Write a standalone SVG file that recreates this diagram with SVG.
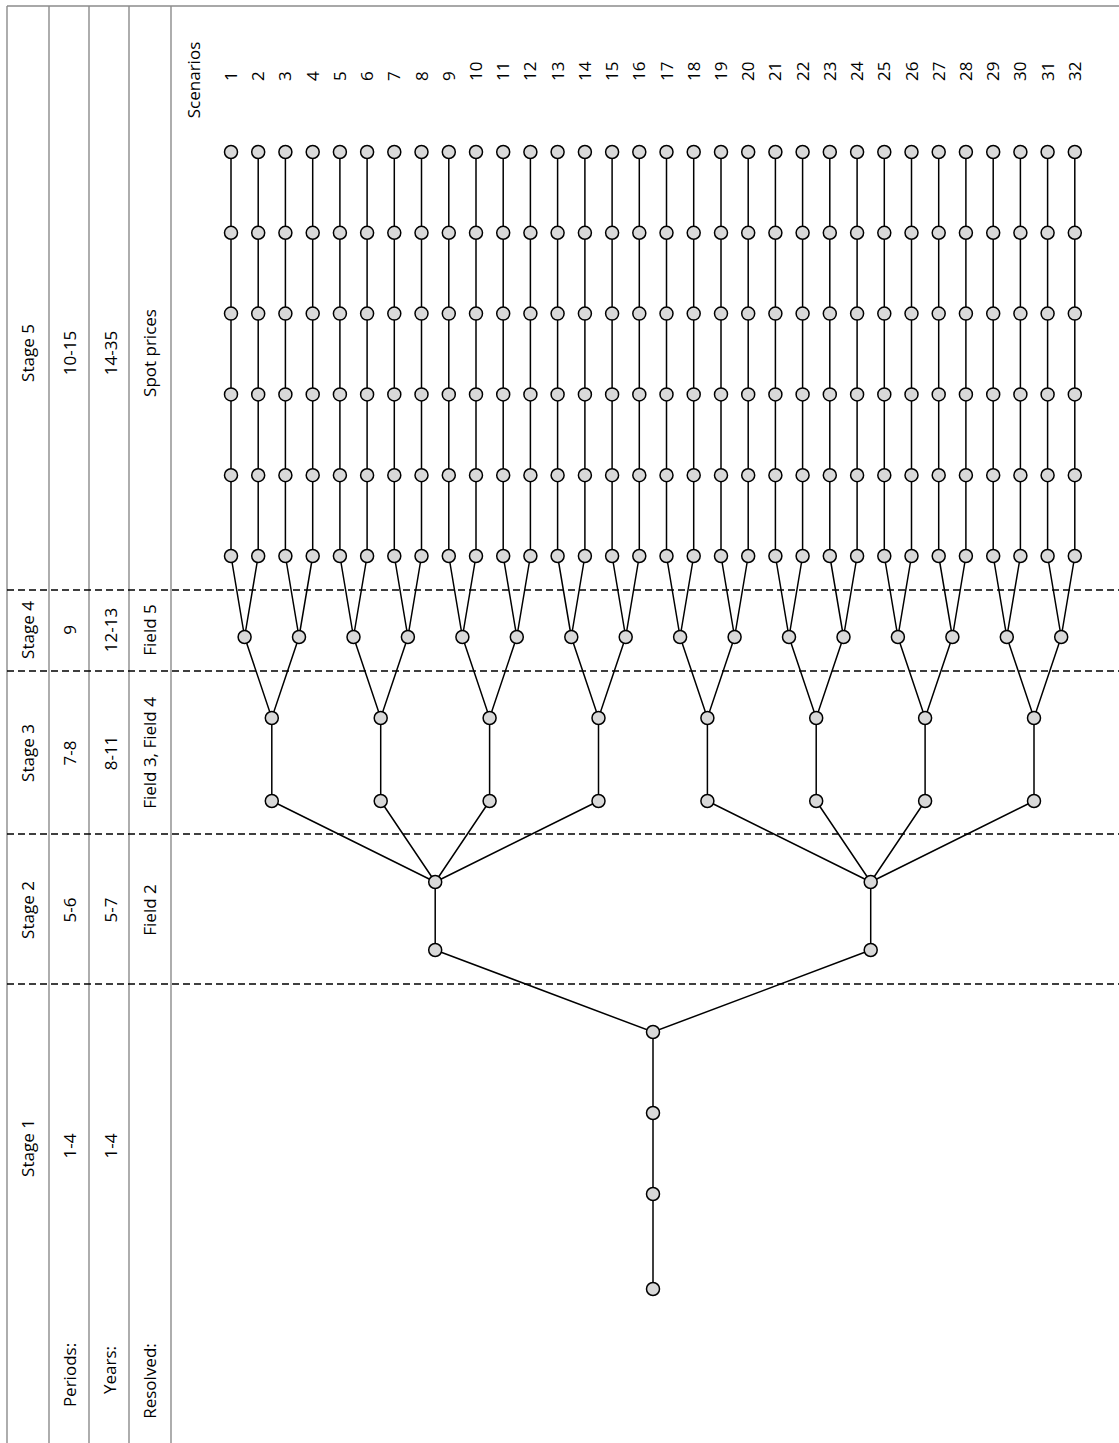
<svg xmlns="http://www.w3.org/2000/svg" width="1119" height="1443" viewBox="0 0 1119 1443">
<style>
.frame{stroke:#8c8c8c;stroke-width:1.4;fill:none}
.dash{stroke:#000;stroke-width:1.5;stroke-dasharray:7 4;fill:none}
.edge{stroke:#000;stroke-width:1.5;fill:none}
.nd{fill:#d9d9d9;stroke:#000;stroke-width:1.5}
.t{font-family:"Open Sans","Liberation Sans",sans-serif;font-size:17px;fill:#000}
.m{text-anchor:middle}
.s{text-anchor:start}
</style>
<rect width="1119" height="1443" fill="#fff"/>
<g id="frame">
<path class="frame" d="M7 6H1119M7 6V1443M49 6V1443M89 6V1443M129 6V1443M171 6V1443"/>
<path class="dash" d="M7 590H1119M7 671H1119M7 834H1119M7 984H1119"/>
</g>
<g id="header-text">
<text class="t m" transform="translate(34,353) rotate(-90)">Stage 5</text>
<text class="t m" transform="translate(76,353) rotate(-90)">10-15</text>
<text class="t m" transform="translate(117,353) rotate(-90)">14-35</text>
<text class="t m" transform="translate(156,353) rotate(-90)">Spot prices</text>
<text class="t m" transform="translate(34,630) rotate(-90)">Stage 4</text>
<text class="t m" transform="translate(76,630) rotate(-90)">9</text>
<text class="t m" transform="translate(117,630) rotate(-90)">12-13</text>
<text class="t m" transform="translate(156,630) rotate(-90)">Field 5</text>
<text class="t m" transform="translate(34,753) rotate(-90)">Stage 3</text>
<text class="t m" transform="translate(76,753) rotate(-90)">7-8</text>
<text class="t m" transform="translate(117,753) rotate(-90)">8-11</text>
<text class="t m" transform="translate(156,753) rotate(-90)">Field 3, Field 4</text>
<text class="t m" transform="translate(34,910) rotate(-90)">Stage 2</text>
<text class="t m" transform="translate(76,910) rotate(-90)">5-6</text>
<text class="t m" transform="translate(117,910) rotate(-90)">5-7</text>
<text class="t m" transform="translate(156,910) rotate(-90)">Field 2</text>
<text class="t m" transform="translate(34,1148) rotate(-90)">Stage 1</text>
<text class="t m" transform="translate(76,1146) rotate(-90)">1-4</text>
<text class="t m" transform="translate(117,1146) rotate(-90)">1-4</text>
<text class="t m" transform="translate(76,1375) rotate(-90)">Periods:</text>
<text class="t m" transform="translate(116,1370) rotate(-90)">Years:</text>
<text class="t m" transform="translate(156,1381) rotate(-90)">Resolved:</text>
<text class="t m" transform="translate(200,80) rotate(-90)">Scenarios</text>
</g>
<g id="scenario-numbers">
<text class="t s" transform="translate(237,81) rotate(-90)">1</text>
<text class="t s" transform="translate(264.2,81) rotate(-90)">2</text>
<text class="t s" transform="translate(291.4,81) rotate(-90)">3</text>
<text class="t s" transform="translate(318.7,81) rotate(-90)">4</text>
<text class="t s" transform="translate(345.9,81) rotate(-90)">5</text>
<text class="t s" transform="translate(373.1,81) rotate(-90)">6</text>
<text class="t s" transform="translate(400.3,81) rotate(-90)">7</text>
<text class="t s" transform="translate(427.5,81) rotate(-90)">8</text>
<text class="t s" transform="translate(454.8,81) rotate(-90)">9</text>
<text class="t s" transform="translate(482,81) rotate(-90)">10</text>
<text class="t s" transform="translate(509.2,81) rotate(-90)">11</text>
<text class="t s" transform="translate(536.4,81) rotate(-90)">12</text>
<text class="t s" transform="translate(563.6,81) rotate(-90)">13</text>
<text class="t s" transform="translate(590.9,81) rotate(-90)">14</text>
<text class="t s" transform="translate(618.1,81) rotate(-90)">15</text>
<text class="t s" transform="translate(645.3,81) rotate(-90)">16</text>
<text class="t s" transform="translate(672.5,81) rotate(-90)">17</text>
<text class="t s" transform="translate(699.7,81) rotate(-90)">18</text>
<text class="t s" transform="translate(727,81) rotate(-90)">19</text>
<text class="t s" transform="translate(754.2,81) rotate(-90)">20</text>
<text class="t s" transform="translate(781.4,81) rotate(-90)">21</text>
<text class="t s" transform="translate(808.6,81) rotate(-90)">22</text>
<text class="t s" transform="translate(835.8,81) rotate(-90)">23</text>
<text class="t s" transform="translate(863.1,81) rotate(-90)">24</text>
<text class="t s" transform="translate(890.3,81) rotate(-90)">25</text>
<text class="t s" transform="translate(917.5,81) rotate(-90)">26</text>
<text class="t s" transform="translate(944.7,81) rotate(-90)">27</text>
<text class="t s" transform="translate(971.9,81) rotate(-90)">28</text>
<text class="t s" transform="translate(999.2,81) rotate(-90)">29</text>
<text class="t s" transform="translate(1026.4,81) rotate(-90)">30</text>
<text class="t s" transform="translate(1053.6,81) rotate(-90)">31</text>
<text class="t s" transform="translate(1080.8,81) rotate(-90)">32</text>
</g>
<g id="connectors">
<path class="edge" d="M231 152V556M258.2 152V556M285.4 152V556M312.7 152V556M339.9 152V556M367.1 152V556M394.3 152V556M421.5 152V556M448.8 152V556M476 152V556M503.2 152V556M530.4 152V556M557.6 152V556M584.9 152V556M612.1 152V556M639.3 152V556M666.5 152V556M693.7 152V556M721 152V556M748.2 152V556M775.4 152V556M802.6 152V556M829.8 152V556M857.1 152V556M884.3 152V556M911.5 152V556M938.7 152V556M965.9 152V556M993.2 152V556M1020.4 152V556M1047.6 152V556M1074.8 152V556"/>
<path class="edge" d="M231 556L244.6 637L258.2 556M285.4 556L299 637L312.7 556M339.9 556L353.5 637L367.1 556M394.3 556L407.9 637L421.5 556M448.8 556L462.4 637L476 556M503.2 556L516.8 637L530.4 556M557.6 556L571.3 637L584.9 556M612.1 556L625.7 637L639.3 556M666.5 556L680.1 637L693.7 556M721 556L734.6 637L748.2 556M775.4 556L789 637L802.6 556M829.8 556L843.5 637L857.1 556M884.3 556L897.9 637L911.5 556M938.7 556L952.4 637L965.9 556M993.2 556L1006.8 637L1020.4 556M1047.6 556L1061.2 637L1074.8 556"/>
<path class="edge" d="M244.6 637L271.8 718L299 637M353.5 637L380.7 718L407.9 637M462.4 637L489.6 718L516.8 637M571.3 637L598.5 718L625.7 637M680.1 637L707.4 718L734.6 637M789 637L816.2 718L843.5 637M897.9 637L925.1 718L952.4 637M1006.8 637L1034 718L1061.2 637"/>
<path class="edge" d="M271.8 718V801M380.7 718V801M489.6 718V801M598.5 718V801M707.4 718V801M816.2 718V801M925.1 718V801M1034 718V801"/>
<path class="edge" d="M271.8 801L435.2 882M380.7 801L435.2 882M489.6 801L435.2 882M598.5 801L435.2 882M707.4 801L870.7 882M816.2 801L870.7 882M925.1 801L870.7 882M1034 801L870.7 882"/>
<path class="edge" d="M435.2 882V950M870.7 882V950M435.2 950L653 1032L870.7 950M653 1032V1289"/>
</g>
<g id="nodes">
<g id="n1"><circle class="nd" cx="653" cy="1289" r="6.5"/></g>
<g id="n2"><circle class="nd" cx="653" cy="1194" r="6.5"/></g>
<g id="n3"><circle class="nd" cx="653" cy="1113" r="6.5"/></g>
<g id="n4"><circle class="nd" cx="653" cy="1032" r="6.5"/></g>
<g id="n2a1"><circle class="nd" cx="435.2" cy="950" r="6.5"/></g>
<g id="n2a2"><circle class="nd" cx="435.2" cy="882" r="6.5"/></g>
<g id="n2b1"><circle class="nd" cx="870.7" cy="950" r="6.5"/></g>
<g id="n2b2"><circle class="nd" cx="870.7" cy="882" r="6.5"/></g>
<g id="n3-1a"><circle class="nd" cx="271.8" cy="801" r="6.5"/></g>
<g id="n3-1b"><circle class="nd" cx="271.8" cy="718" r="6.5"/></g>
<g id="n3-2a"><circle class="nd" cx="380.7" cy="801" r="6.5"/></g>
<g id="n3-2b"><circle class="nd" cx="380.7" cy="718" r="6.5"/></g>
<g id="n3-3a"><circle class="nd" cx="489.6" cy="801" r="6.5"/></g>
<g id="n3-3b"><circle class="nd" cx="489.6" cy="718" r="6.5"/></g>
<g id="n3-4a"><circle class="nd" cx="598.5" cy="801" r="6.5"/></g>
<g id="n3-4b"><circle class="nd" cx="598.5" cy="718" r="6.5"/></g>
<g id="n3-5a"><circle class="nd" cx="707.4" cy="801" r="6.5"/></g>
<g id="n3-5b"><circle class="nd" cx="707.4" cy="718" r="6.5"/></g>
<g id="n3-6a"><circle class="nd" cx="816.2" cy="801" r="6.5"/></g>
<g id="n3-6b"><circle class="nd" cx="816.2" cy="718" r="6.5"/></g>
<g id="n3-7a"><circle class="nd" cx="925.1" cy="801" r="6.5"/></g>
<g id="n3-7b"><circle class="nd" cx="925.1" cy="718" r="6.5"/></g>
<g id="n3-8a"><circle class="nd" cx="1034" cy="801" r="6.5"/></g>
<g id="n3-8b"><circle class="nd" cx="1034" cy="718" r="6.5"/></g>
<g id="n4-1"><circle class="nd" cx="244.6" cy="637" r="6.5"/></g>
<g id="n4-2"><circle class="nd" cx="299" cy="637" r="6.5"/></g>
<g id="n4-3"><circle class="nd" cx="353.5" cy="637" r="6.5"/></g>
<g id="n4-4"><circle class="nd" cx="407.9" cy="637" r="6.5"/></g>
<g id="n4-5"><circle class="nd" cx="462.4" cy="637" r="6.5"/></g>
<g id="n4-6"><circle class="nd" cx="516.8" cy="637" r="6.5"/></g>
<g id="n4-7"><circle class="nd" cx="571.3" cy="637" r="6.5"/></g>
<g id="n4-8"><circle class="nd" cx="625.7" cy="637" r="6.5"/></g>
<g id="n4-9"><circle class="nd" cx="680.1" cy="637" r="6.5"/></g>
<g id="n4-10"><circle class="nd" cx="734.6" cy="637" r="6.5"/></g>
<g id="n4-11"><circle class="nd" cx="789" cy="637" r="6.5"/></g>
<g id="n4-12"><circle class="nd" cx="843.5" cy="637" r="6.5"/></g>
<g id="n4-13"><circle class="nd" cx="897.9" cy="637" r="6.5"/></g>
<g id="n4-14"><circle class="nd" cx="952.4" cy="637" r="6.5"/></g>
<g id="n4-15"><circle class="nd" cx="1006.8" cy="637" r="6.5"/></g>
<g id="n4-16"><circle class="nd" cx="1061.2" cy="637" r="6.5"/></g>
<g id="s1"><g id="s1-1"><circle class="nd" cx="231" cy="556" r="6.5"/></g><g id="s1-2"><circle class="nd" cx="231" cy="475.2" r="6.5"/></g><g id="s1-3"><circle class="nd" cx="231" cy="394.4" r="6.5"/></g><g id="s1-4"><circle class="nd" cx="231" cy="313.6" r="6.5"/></g><g id="s1-5"><circle class="nd" cx="231" cy="232.8" r="6.5"/></g><g id="s1-6"><circle class="nd" cx="231" cy="152" r="6.5"/></g></g>
<g id="s2"><g id="s2-1"><circle class="nd" cx="258.2" cy="556" r="6.5"/></g><g id="s2-2"><circle class="nd" cx="258.2" cy="475.2" r="6.5"/></g><g id="s2-3"><circle class="nd" cx="258.2" cy="394.4" r="6.5"/></g><g id="s2-4"><circle class="nd" cx="258.2" cy="313.6" r="6.5"/></g><g id="s2-5"><circle class="nd" cx="258.2" cy="232.8" r="6.5"/></g><g id="s2-6"><circle class="nd" cx="258.2" cy="152" r="6.5"/></g></g>
<g id="s3"><g id="s3-1"><circle class="nd" cx="285.4" cy="556" r="6.5"/></g><g id="s3-2"><circle class="nd" cx="285.4" cy="475.2" r="6.5"/></g><g id="s3-3"><circle class="nd" cx="285.4" cy="394.4" r="6.5"/></g><g id="s3-4"><circle class="nd" cx="285.4" cy="313.6" r="6.5"/></g><g id="s3-5"><circle class="nd" cx="285.4" cy="232.8" r="6.5"/></g><g id="s3-6"><circle class="nd" cx="285.4" cy="152" r="6.5"/></g></g>
<g id="s4"><g id="s4-1"><circle class="nd" cx="312.7" cy="556" r="6.5"/></g><g id="s4-2"><circle class="nd" cx="312.7" cy="475.2" r="6.5"/></g><g id="s4-3"><circle class="nd" cx="312.7" cy="394.4" r="6.5"/></g><g id="s4-4"><circle class="nd" cx="312.7" cy="313.6" r="6.5"/></g><g id="s4-5"><circle class="nd" cx="312.7" cy="232.8" r="6.5"/></g><g id="s4-6"><circle class="nd" cx="312.7" cy="152" r="6.5"/></g></g>
<g id="s5"><g id="s5-1"><circle class="nd" cx="339.9" cy="556" r="6.5"/></g><g id="s5-2"><circle class="nd" cx="339.9" cy="475.2" r="6.5"/></g><g id="s5-3"><circle class="nd" cx="339.9" cy="394.4" r="6.5"/></g><g id="s5-4"><circle class="nd" cx="339.9" cy="313.6" r="6.5"/></g><g id="s5-5"><circle class="nd" cx="339.9" cy="232.8" r="6.5"/></g><g id="s5-6"><circle class="nd" cx="339.9" cy="152" r="6.5"/></g></g>
<g id="s6"><g id="s6-1"><circle class="nd" cx="367.1" cy="556" r="6.5"/></g><g id="s6-2"><circle class="nd" cx="367.1" cy="475.2" r="6.5"/></g><g id="s6-3"><circle class="nd" cx="367.1" cy="394.4" r="6.5"/></g><g id="s6-4"><circle class="nd" cx="367.1" cy="313.6" r="6.5"/></g><g id="s6-5"><circle class="nd" cx="367.1" cy="232.8" r="6.5"/></g><g id="s6-6"><circle class="nd" cx="367.1" cy="152" r="6.5"/></g></g>
<g id="s7"><g id="s7-1"><circle class="nd" cx="394.3" cy="556" r="6.5"/></g><g id="s7-2"><circle class="nd" cx="394.3" cy="475.2" r="6.5"/></g><g id="s7-3"><circle class="nd" cx="394.3" cy="394.4" r="6.5"/></g><g id="s7-4"><circle class="nd" cx="394.3" cy="313.6" r="6.5"/></g><g id="s7-5"><circle class="nd" cx="394.3" cy="232.8" r="6.5"/></g><g id="s7-6"><circle class="nd" cx="394.3" cy="152" r="6.5"/></g></g>
<g id="s8"><g id="s8-1"><circle class="nd" cx="421.5" cy="556" r="6.5"/></g><g id="s8-2"><circle class="nd" cx="421.5" cy="475.2" r="6.5"/></g><g id="s8-3"><circle class="nd" cx="421.5" cy="394.4" r="6.5"/></g><g id="s8-4"><circle class="nd" cx="421.5" cy="313.6" r="6.5"/></g><g id="s8-5"><circle class="nd" cx="421.5" cy="232.8" r="6.5"/></g><g id="s8-6"><circle class="nd" cx="421.5" cy="152" r="6.5"/></g></g>
<g id="s9"><g id="s9-1"><circle class="nd" cx="448.8" cy="556" r="6.5"/></g><g id="s9-2"><circle class="nd" cx="448.8" cy="475.2" r="6.5"/></g><g id="s9-3"><circle class="nd" cx="448.8" cy="394.4" r="6.5"/></g><g id="s9-4"><circle class="nd" cx="448.8" cy="313.6" r="6.5"/></g><g id="s9-5"><circle class="nd" cx="448.8" cy="232.8" r="6.5"/></g><g id="s9-6"><circle class="nd" cx="448.8" cy="152" r="6.5"/></g></g>
<g id="s10"><g id="s10-1"><circle class="nd" cx="476" cy="556" r="6.5"/></g><g id="s10-2"><circle class="nd" cx="476" cy="475.2" r="6.5"/></g><g id="s10-3"><circle class="nd" cx="476" cy="394.4" r="6.5"/></g><g id="s10-4"><circle class="nd" cx="476" cy="313.6" r="6.5"/></g><g id="s10-5"><circle class="nd" cx="476" cy="232.8" r="6.5"/></g><g id="s10-6"><circle class="nd" cx="476" cy="152" r="6.5"/></g></g>
<g id="s11"><g id="s11-1"><circle class="nd" cx="503.2" cy="556" r="6.5"/></g><g id="s11-2"><circle class="nd" cx="503.2" cy="475.2" r="6.5"/></g><g id="s11-3"><circle class="nd" cx="503.2" cy="394.4" r="6.5"/></g><g id="s11-4"><circle class="nd" cx="503.2" cy="313.6" r="6.5"/></g><g id="s11-5"><circle class="nd" cx="503.2" cy="232.8" r="6.5"/></g><g id="s11-6"><circle class="nd" cx="503.2" cy="152" r="6.5"/></g></g>
<g id="s12"><g id="s12-1"><circle class="nd" cx="530.4" cy="556" r="6.5"/></g><g id="s12-2"><circle class="nd" cx="530.4" cy="475.2" r="6.5"/></g><g id="s12-3"><circle class="nd" cx="530.4" cy="394.4" r="6.5"/></g><g id="s12-4"><circle class="nd" cx="530.4" cy="313.6" r="6.5"/></g><g id="s12-5"><circle class="nd" cx="530.4" cy="232.8" r="6.5"/></g><g id="s12-6"><circle class="nd" cx="530.4" cy="152" r="6.5"/></g></g>
<g id="s13"><g id="s13-1"><circle class="nd" cx="557.6" cy="556" r="6.5"/></g><g id="s13-2"><circle class="nd" cx="557.6" cy="475.2" r="6.5"/></g><g id="s13-3"><circle class="nd" cx="557.6" cy="394.4" r="6.5"/></g><g id="s13-4"><circle class="nd" cx="557.6" cy="313.6" r="6.5"/></g><g id="s13-5"><circle class="nd" cx="557.6" cy="232.8" r="6.5"/></g><g id="s13-6"><circle class="nd" cx="557.6" cy="152" r="6.5"/></g></g>
<g id="s14"><g id="s14-1"><circle class="nd" cx="584.9" cy="556" r="6.5"/></g><g id="s14-2"><circle class="nd" cx="584.9" cy="475.2" r="6.5"/></g><g id="s14-3"><circle class="nd" cx="584.9" cy="394.4" r="6.5"/></g><g id="s14-4"><circle class="nd" cx="584.9" cy="313.6" r="6.5"/></g><g id="s14-5"><circle class="nd" cx="584.9" cy="232.8" r="6.5"/></g><g id="s14-6"><circle class="nd" cx="584.9" cy="152" r="6.5"/></g></g>
<g id="s15"><g id="s15-1"><circle class="nd" cx="612.1" cy="556" r="6.5"/></g><g id="s15-2"><circle class="nd" cx="612.1" cy="475.2" r="6.5"/></g><g id="s15-3"><circle class="nd" cx="612.1" cy="394.4" r="6.5"/></g><g id="s15-4"><circle class="nd" cx="612.1" cy="313.6" r="6.5"/></g><g id="s15-5"><circle class="nd" cx="612.1" cy="232.8" r="6.5"/></g><g id="s15-6"><circle class="nd" cx="612.1" cy="152" r="6.5"/></g></g>
<g id="s16"><g id="s16-1"><circle class="nd" cx="639.3" cy="556" r="6.5"/></g><g id="s16-2"><circle class="nd" cx="639.3" cy="475.2" r="6.5"/></g><g id="s16-3"><circle class="nd" cx="639.3" cy="394.4" r="6.5"/></g><g id="s16-4"><circle class="nd" cx="639.3" cy="313.6" r="6.5"/></g><g id="s16-5"><circle class="nd" cx="639.3" cy="232.8" r="6.5"/></g><g id="s16-6"><circle class="nd" cx="639.3" cy="152" r="6.5"/></g></g>
<g id="s17"><g id="s17-1"><circle class="nd" cx="666.5" cy="556" r="6.5"/></g><g id="s17-2"><circle class="nd" cx="666.5" cy="475.2" r="6.5"/></g><g id="s17-3"><circle class="nd" cx="666.5" cy="394.4" r="6.5"/></g><g id="s17-4"><circle class="nd" cx="666.5" cy="313.6" r="6.5"/></g><g id="s17-5"><circle class="nd" cx="666.5" cy="232.8" r="6.5"/></g><g id="s17-6"><circle class="nd" cx="666.5" cy="152" r="6.5"/></g></g>
<g id="s18"><g id="s18-1"><circle class="nd" cx="693.7" cy="556" r="6.5"/></g><g id="s18-2"><circle class="nd" cx="693.7" cy="475.2" r="6.5"/></g><g id="s18-3"><circle class="nd" cx="693.7" cy="394.4" r="6.5"/></g><g id="s18-4"><circle class="nd" cx="693.7" cy="313.6" r="6.5"/></g><g id="s18-5"><circle class="nd" cx="693.7" cy="232.8" r="6.5"/></g><g id="s18-6"><circle class="nd" cx="693.7" cy="152" r="6.5"/></g></g>
<g id="s19"><g id="s19-1"><circle class="nd" cx="721" cy="556" r="6.5"/></g><g id="s19-2"><circle class="nd" cx="721" cy="475.2" r="6.5"/></g><g id="s19-3"><circle class="nd" cx="721" cy="394.4" r="6.5"/></g><g id="s19-4"><circle class="nd" cx="721" cy="313.6" r="6.5"/></g><g id="s19-5"><circle class="nd" cx="721" cy="232.8" r="6.5"/></g><g id="s19-6"><circle class="nd" cx="721" cy="152" r="6.5"/></g></g>
<g id="s20"><g id="s20-1"><circle class="nd" cx="748.2" cy="556" r="6.5"/></g><g id="s20-2"><circle class="nd" cx="748.2" cy="475.2" r="6.5"/></g><g id="s20-3"><circle class="nd" cx="748.2" cy="394.4" r="6.5"/></g><g id="s20-4"><circle class="nd" cx="748.2" cy="313.6" r="6.5"/></g><g id="s20-5"><circle class="nd" cx="748.2" cy="232.8" r="6.5"/></g><g id="s20-6"><circle class="nd" cx="748.2" cy="152" r="6.5"/></g></g>
<g id="s21"><g id="s21-1"><circle class="nd" cx="775.4" cy="556" r="6.5"/></g><g id="s21-2"><circle class="nd" cx="775.4" cy="475.2" r="6.5"/></g><g id="s21-3"><circle class="nd" cx="775.4" cy="394.4" r="6.5"/></g><g id="s21-4"><circle class="nd" cx="775.4" cy="313.6" r="6.5"/></g><g id="s21-5"><circle class="nd" cx="775.4" cy="232.8" r="6.5"/></g><g id="s21-6"><circle class="nd" cx="775.4" cy="152" r="6.5"/></g></g>
<g id="s22"><g id="s22-1"><circle class="nd" cx="802.6" cy="556" r="6.5"/></g><g id="s22-2"><circle class="nd" cx="802.6" cy="475.2" r="6.5"/></g><g id="s22-3"><circle class="nd" cx="802.6" cy="394.4" r="6.5"/></g><g id="s22-4"><circle class="nd" cx="802.6" cy="313.6" r="6.5"/></g><g id="s22-5"><circle class="nd" cx="802.6" cy="232.8" r="6.5"/></g><g id="s22-6"><circle class="nd" cx="802.6" cy="152" r="6.5"/></g></g>
<g id="s23"><g id="s23-1"><circle class="nd" cx="829.8" cy="556" r="6.5"/></g><g id="s23-2"><circle class="nd" cx="829.8" cy="475.2" r="6.5"/></g><g id="s23-3"><circle class="nd" cx="829.8" cy="394.4" r="6.5"/></g><g id="s23-4"><circle class="nd" cx="829.8" cy="313.6" r="6.5"/></g><g id="s23-5"><circle class="nd" cx="829.8" cy="232.8" r="6.5"/></g><g id="s23-6"><circle class="nd" cx="829.8" cy="152" r="6.5"/></g></g>
<g id="s24"><g id="s24-1"><circle class="nd" cx="857.1" cy="556" r="6.5"/></g><g id="s24-2"><circle class="nd" cx="857.1" cy="475.2" r="6.5"/></g><g id="s24-3"><circle class="nd" cx="857.1" cy="394.4" r="6.5"/></g><g id="s24-4"><circle class="nd" cx="857.1" cy="313.6" r="6.5"/></g><g id="s24-5"><circle class="nd" cx="857.1" cy="232.8" r="6.5"/></g><g id="s24-6"><circle class="nd" cx="857.1" cy="152" r="6.5"/></g></g>
<g id="s25"><g id="s25-1"><circle class="nd" cx="884.3" cy="556" r="6.5"/></g><g id="s25-2"><circle class="nd" cx="884.3" cy="475.2" r="6.5"/></g><g id="s25-3"><circle class="nd" cx="884.3" cy="394.4" r="6.5"/></g><g id="s25-4"><circle class="nd" cx="884.3" cy="313.6" r="6.5"/></g><g id="s25-5"><circle class="nd" cx="884.3" cy="232.8" r="6.5"/></g><g id="s25-6"><circle class="nd" cx="884.3" cy="152" r="6.5"/></g></g>
<g id="s26"><g id="s26-1"><circle class="nd" cx="911.5" cy="556" r="6.5"/></g><g id="s26-2"><circle class="nd" cx="911.5" cy="475.2" r="6.5"/></g><g id="s26-3"><circle class="nd" cx="911.5" cy="394.4" r="6.5"/></g><g id="s26-4"><circle class="nd" cx="911.5" cy="313.6" r="6.5"/></g><g id="s26-5"><circle class="nd" cx="911.5" cy="232.8" r="6.5"/></g><g id="s26-6"><circle class="nd" cx="911.5" cy="152" r="6.5"/></g></g>
<g id="s27"><g id="s27-1"><circle class="nd" cx="938.7" cy="556" r="6.5"/></g><g id="s27-2"><circle class="nd" cx="938.7" cy="475.2" r="6.5"/></g><g id="s27-3"><circle class="nd" cx="938.7" cy="394.4" r="6.5"/></g><g id="s27-4"><circle class="nd" cx="938.7" cy="313.6" r="6.5"/></g><g id="s27-5"><circle class="nd" cx="938.7" cy="232.8" r="6.5"/></g><g id="s27-6"><circle class="nd" cx="938.7" cy="152" r="6.5"/></g></g>
<g id="s28"><g id="s28-1"><circle class="nd" cx="965.9" cy="556" r="6.5"/></g><g id="s28-2"><circle class="nd" cx="965.9" cy="475.2" r="6.5"/></g><g id="s28-3"><circle class="nd" cx="965.9" cy="394.4" r="6.5"/></g><g id="s28-4"><circle class="nd" cx="965.9" cy="313.6" r="6.5"/></g><g id="s28-5"><circle class="nd" cx="965.9" cy="232.8" r="6.5"/></g><g id="s28-6"><circle class="nd" cx="965.9" cy="152" r="6.5"/></g></g>
<g id="s29"><g id="s29-1"><circle class="nd" cx="993.2" cy="556" r="6.5"/></g><g id="s29-2"><circle class="nd" cx="993.2" cy="475.2" r="6.5"/></g><g id="s29-3"><circle class="nd" cx="993.2" cy="394.4" r="6.5"/></g><g id="s29-4"><circle class="nd" cx="993.2" cy="313.6" r="6.5"/></g><g id="s29-5"><circle class="nd" cx="993.2" cy="232.8" r="6.5"/></g><g id="s29-6"><circle class="nd" cx="993.2" cy="152" r="6.5"/></g></g>
<g id="s30"><g id="s30-1"><circle class="nd" cx="1020.4" cy="556" r="6.5"/></g><g id="s30-2"><circle class="nd" cx="1020.4" cy="475.2" r="6.5"/></g><g id="s30-3"><circle class="nd" cx="1020.4" cy="394.4" r="6.5"/></g><g id="s30-4"><circle class="nd" cx="1020.4" cy="313.6" r="6.5"/></g><g id="s30-5"><circle class="nd" cx="1020.4" cy="232.8" r="6.5"/></g><g id="s30-6"><circle class="nd" cx="1020.4" cy="152" r="6.5"/></g></g>
<g id="s31"><g id="s31-1"><circle class="nd" cx="1047.6" cy="556" r="6.5"/></g><g id="s31-2"><circle class="nd" cx="1047.6" cy="475.2" r="6.5"/></g><g id="s31-3"><circle class="nd" cx="1047.6" cy="394.4" r="6.5"/></g><g id="s31-4"><circle class="nd" cx="1047.6" cy="313.6" r="6.5"/></g><g id="s31-5"><circle class="nd" cx="1047.6" cy="232.8" r="6.5"/></g><g id="s31-6"><circle class="nd" cx="1047.6" cy="152" r="6.5"/></g></g>
<g id="s32"><g id="s32-1"><circle class="nd" cx="1074.8" cy="556" r="6.5"/></g><g id="s32-2"><circle class="nd" cx="1074.8" cy="475.2" r="6.5"/></g><g id="s32-3"><circle class="nd" cx="1074.8" cy="394.4" r="6.5"/></g><g id="s32-4"><circle class="nd" cx="1074.8" cy="313.6" r="6.5"/></g><g id="s32-5"><circle class="nd" cx="1074.8" cy="232.8" r="6.5"/></g><g id="s32-6"><circle class="nd" cx="1074.8" cy="152" r="6.5"/></g></g>
</g>
</svg>
